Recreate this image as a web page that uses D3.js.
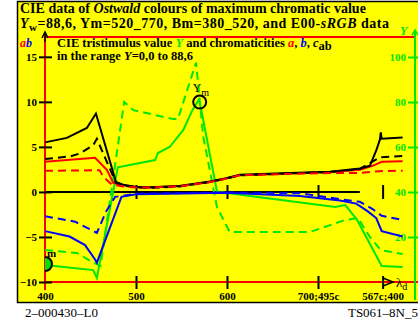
<!DOCTYPE html>
<html>
<head>
<meta charset="utf-8">
<script src="https://cdn.jsdelivr.net/npm/d3@7"></script>
<style>
  html, body { margin: 0; padding: 0; background: #fff; }
  svg { display: block; }
  text { font-family: "Liberation Serif", "Times New Roman", serif; }
</style>
</head>
<body>
<div id="chart"></div>
<script>
// ------- data -------
// x positions: wavelength axis, after 700 it goes on with complementary hues
const lambdaTicks = [400, 500, 600, 700, 771];
const lambdaLabels = ["400", "500", "600", "700;495c", "567c;400"];
const abTicks = [-10, -5, 0, 5, 10, 15];
const yTicks = [20, 40, 60, 80, 100];
const zeroLineEnds = [400, 746];

// chromaticity c_ab (black), a (red), b (blue) on the left axis; solid / dashed
const cabSolid = [[400,5.5],[424,6.0],[446,7.1],[456,8.7],[478,1.1],[486,0.8],[500,0.55],[515,0.52],[548,0.67],[581,1.15],[598,1.5],[614,1.9],[669,2.1],[713,2.25],[746,2.6],[757,2.9],[764,4.6],[768,5.8],[769,6.6],[770,5.9],[793,6.05]];
const cabDashed = [[400,3.65],[428,3.95],[439,4.3],[453,5.2],[457,5.9],[478,1.0],[486,0.7],[500,0.5],[515,0.45],[548,0.6],[581,1.1],[598,1.45],[614,1.85],[669,2.05],[713,2.2],[746,2.55],[757,3.2],[768,3.85],[793,4.0]];
const aSolid = [[400,3.35],[455,3.8],[468,2.45],[475,1.0],[486,0.75],[500,0.55],[515,0.5],[548,0.65],[581,1.1],[598,1.5],[614,1.85],[669,2.05],[713,2.2],[746,2.45],[760,2.9],[770,3.35],[793,3.4]];
const aDashed = [[400,2.35],[460,2.4],[464,1.7],[473,0.85],[486,0.6],[500,0.5],[515,0.5],[548,0.62],[581,1.1],[598,1.45],[614,1.85],[669,2.0],[713,2.1],[744,2.1],[771,2.33],[793,2.35]];
const bSolid = [[400,-4.35],[427,-4.95],[444,-5.9],[455,-7.5],[457,-7.85],[484,-0.55],[500,-0.25],[600,-0.1],[680,-0.45],[724,-0.95],[742,-1.3],[754,-2.1],[764,-2.9],[770,-4.35],[793,-4.95]];
const bDashed = [[400,-2.7],[433,-3.3],[457,-4.55],[467,-2.2],[477,-0.55],[500,-0.2],[600,-0.05],[680,-0.15],[724,-0.8],[746,-1.1],[760,-1.9],[770,-2.65],[793,-3.1]];

// tristimulus value Y (green) on the right axis
const ySolid = [[400,7.6],[453,5.3],[457,1.8],[480,51],[493,52],[521,54.2],[524,57.3],[537,60],[552,67.6],[562,76.4],[569,81],[572,76],[589,40.2],[600,39.6],[719,33.3],[730,34.2],[743,27.6],[770,7.1],[793,6.7]];
const yDashed = [[400,14.2],[435,12.9],[452,8.9],[461,7.1],[487,80],[497,76.4],[541,72.4],[546,72.4],[566,97.5],[574,64.4],[589,33.3],[603,22.2],[691,22.2],[730,27.6],[744,28.4],[757,20],[769,14.2],[793,12.4]];

// markers: Y maximum and minimum
const yMax = [570, 80];
const yMin = [400, 8];

// ------- helpers -------
const YELLOW = "#ffff00";
const RED = "#ff0000";
const GREEN = "#00e600";
const BLUE = "#0000ff";

const W = 418, H = 324;

const svg = d3.select("#chart")
  .append("svg")
  .attr("width", W)
  .attr("height", H);

// frame
svg.append("rect")
  .attr("x", 17.5).attr("y", 1.5)
  .attr("width", 420).attr("height", 301)
  .attr("fill", YELLOW)
  .attr("stroke", "#000")
  .attr("stroke-width", 1.5);

const x = d3.scaleLinear().domain([400, 806.6]).range([45, 415]);
const yL = d3.scaleLinear().domain([-10, 17.2]).range([282, 37]);
const yR = d3.scaleLinear().domain([0, 108.9]).range([282, 37]);

svg.append("clipPath").attr("id", "plot")
  .append("rect").attr("x", 45).attr("y", 30).attr("width", 372).attr("height", 260);

// ------- titles -------
const t1 = svg.append("text")
  .attr("x", 20).attr("y", 12.8)
  .style("font-size", "14px").style("font-weight", "bold");
t1.append("tspan").text("CIE data of ");
t1.append("tspan").style("font-style", "italic").text("Ostwald");
t1.append("tspan").text(" colours of maximum chromatic value");

const t2 = svg.append("text")
  .attr("x", 20).attr("y", 28.3)
  .style("font-size", "14px").style("font-weight", "bold")
  .style("letter-spacing", "0.5px");
t2.append("tspan").style("font-style", "italic").text("Y");
t2.append("tspan").attr("dy", 3).style("font-size", "11px").text("w");
t2.append("tspan").attr("dy", -3).text("=88,6, Ym=520_770, Bm=380_520, and E00-");
t2.append("tspan").style("font-style", "italic").text("sRGB");
t2.append("tspan").text(" data");

// ------- axes lines -------
// top red line, left red axis, bottom red axis
svg.append("line")
  .attr("x1", x.range()[0]).attr("x2", x.range()[1])
  .attr("y1", yL.range()[1]).attr("y2", yL.range()[1])
  .attr("stroke", RED).attr("stroke-width", 2);

svg.append("line")
  .attr("x1", 45).attr("x2", 45)
  .attr("y1", 36).attr("y2", 290)
  .attr("stroke", RED).attr("stroke-width", 2);

svg.append("line")
  .attr("x1", 45).attr("x2", 418)
  .attr("y1", yL(-10)).attr("y2", yL(-10))
  .attr("stroke", RED).attr("stroke-width", 2);

// right green axis
svg.append("line")
  .attr("x1", 415).attr("x2", 415)
  .attr("y1", 31).attr("y2", 300)
  .attr("stroke", GREEN).attr("stroke-width", 2);

// zero line
svg.append("line")
  .attr("x1", x(zeroLineEnds[0])).attr("x2", x(zeroLineEnds[1]))
  .attr("y1", yL(0)).attr("y2", yL(0))
  .attr("stroke", "#000").attr("stroke-width", 2);

const styleAxis = (g, col) => {
  g.select(".domain").remove();
  g.selectAll("line").attr("stroke", col).attr("stroke-width", 2);
  g.selectAll("text")
    .attr("fill", col)
    .style("font-family", "'Liberation Serif', serif")
    .style("font-weight", "bold")
    .style("font-size", "11px");
};

// left ticks (a, b)
svg.append("g")
  .attr("transform", "translate(52,0)")
  .call(d3.axisLeft(yL).tickValues(abTicks).tickSize(13).tickPadding(2)
    .tickFormat(d => d < 0 ? "\u2212" + Math.abs(d) : d))
  .call(g => styleAxis(g, "#000"));

// right ticks (Y)
svg.append("g")
  .attr("transform", "translate(420,0)")
  .call(d3.axisLeft(yR).tickValues(yTicks).tickSize(12).tickPadding(2))
  .call(g => styleAxis(g, GREEN));

// bottom ticks + labels
svg.append("g")
  .attr("transform", "translate(0,276)")
  .call(d3.axisBottom(x).tickValues(lambdaTicks).tickSize(13).tickPadding(3)
    .tickFormat((d, i) => lambdaLabels[i]))
  .call(g => styleAxis(g, "#000"))
  .call(g => g.selectAll(".tick").filter(d => d === 400).select("line").remove());

// ticks on the zero line
svg.append("g")
  .attr("transform", "translate(0,185)")
  .call(d3.axisBottom(x).tickValues(lambdaTicks.slice(1)).tickSize(14).tickFormat(""))
  .call(g => styleAxis(g, "#000"));

// arrows
svg.append("path")
  .attr("d", "M45,42 L45,32 M42,38 L45,32 L48,38")
  .attr("fill", "none").attr("stroke", "#000").attr("stroke-width", 1.5);
svg.append("path")
  .attr("d", "M415,37 L415,30 M412,35 L415,30 L418,35")
  .attr("fill", "none").attr("stroke", GREEN).attr("stroke-width", 1.5);
svg.append("path")
  .attr("d", "M383,278 L393,282 L383,286")
  .attr("fill", "none").attr("stroke", "#000").attr("stroke-width", 1.5);

// axis names
const ab = svg.append("text")
  .attr("x", 20).attr("y", 47)
  .style("font-size", "12px").style("font-weight", "bold").style("font-style", "italic");
ab.append("tspan").attr("fill", RED).text("a");
ab.append("tspan").attr("fill", BLUE).text("b");

svg.append("text")
  .attr("x", 400).attr("y", 35)
  .attr("fill", GREEN)
  .style("font-size", "12px").style("font-weight", "bold").style("font-style", "italic")
  .text("Y");

const ld = svg.append("text")
  .attr("x", 396).attr("y", 287)
  .style("font-size", "13px");
ld.append("tspan").text("\u03bb");
ld.append("tspan").attr("dy", 3).style("font-size", "10px").text("d");

// ------- inner legend text -------
const l1 = svg.append("text")
  .attr("x", 57).attr("y", 47)
  .style("font-size", "12.5px").style("font-weight", "bold");
l1.append("tspan").text("CIE tristimulus value ");
l1.append("tspan").attr("fill", GREEN).style("font-style", "italic").text("Y");
l1.append("tspan").text(" and chromaticities ");
l1.append("tspan").attr("fill", RED).style("font-style", "italic").text("a");
l1.append("tspan").text(", ");
l1.append("tspan").attr("fill", BLUE).style("font-style", "italic").text("b");
l1.append("tspan").text(", ");
l1.append("tspan").style("font-style", "italic").text("c");
l1.append("tspan").attr("dy", 3).text("ab");

const l2 = svg.append("text")
  .attr("x", 57).attr("y", 60)
  .style("font-size", "12.5px").style("font-weight", "bold");
l2.append("tspan").text("in the range ");
l2.append("tspan").style("font-style", "italic").text("Y");
l2.append("tspan").text("=0,0 to 88,6");

// ------- curves -------
const lineL = d3.line().x(d => x(d[0])).y(d => yL(d[1]));
const lineR = d3.line().x(d => x(d[0])).y(d => yR(d[1]));

const curves = [
  { data: yDashed, line: lineR, col: GREEN, dash: "8,5" },
  { data: ySolid, line: lineR, col: GREEN, dash: null },
  { data: bDashed, line: lineL, col: BLUE, dash: "8,5" },
  { data: bSolid, line: lineL, col: BLUE, dash: null },
  { data: aSolid, line: lineL, col: RED, dash: null },
  { data: cabSolid, line: lineL, col: "#000", dash: null },
  { data: cabDashed, line: lineL, col: "#000", dash: "8,5" },
  { data: aDashed, line: lineL, col: RED, dash: "8,5" }
];

svg.append("g")
  .selectAll("path")
  .data(curves)
  .enter()
  .append("path")
  .attr("d", c => c.line(c.data))
  .attr("fill", "none")
  .attr("stroke", c => c.col)
  .attr("stroke-width", 2)
  .attr("stroke-linejoin", "miter")
  .attr("stroke-dasharray", c => c.dash);

// ------- markers -------
svg.append("circle")
  .attr("cx", x(yMax[0])).attr("cy", yR(yMax[1]))
  .attr("r", 6.5)
  .attr("fill", "none").attr("stroke", "#000").attr("stroke-width", 2);

const ym = svg.append("text")
  .attr("x", x(yMax[0]) - 7).attr("y", yR(yMax[1]) - 10)
  .style("font-size", "12px");
ym.append("tspan").text("Y");
ym.append("tspan").attr("dy", 4).style("font-size", "10px").text("m");

svg.append("circle")
  .attr("clip-path", "url(#plot)")
  .attr("cx", x(yMin[0])).attr("cy", yR(yMin[1]))
  .attr("r", 7)
  .attr("fill", GREEN).attr("stroke", "#000").attr("stroke-width", 2);

svg.append("text")
  .attr("x", x(yMin[0]) + 2).attr("y", yR(yMin[1]) - 7)
  .style("font-size", "11px").style("font-weight", "bold")
  .text("m");

// ------- footer -------
svg.append("text")
  .attr("x", 25).attr("y", 317)
  .style("font-size", "13px")
  .text("2\u2013000430\u2013L0");

svg.append("text")
  .attr("x", 418).attr("y", 317)
  .attr("text-anchor", "end")
  .style("font-size", "13px")
  .text("TS061\u20138N_5");
</script>
</body>
</html>
